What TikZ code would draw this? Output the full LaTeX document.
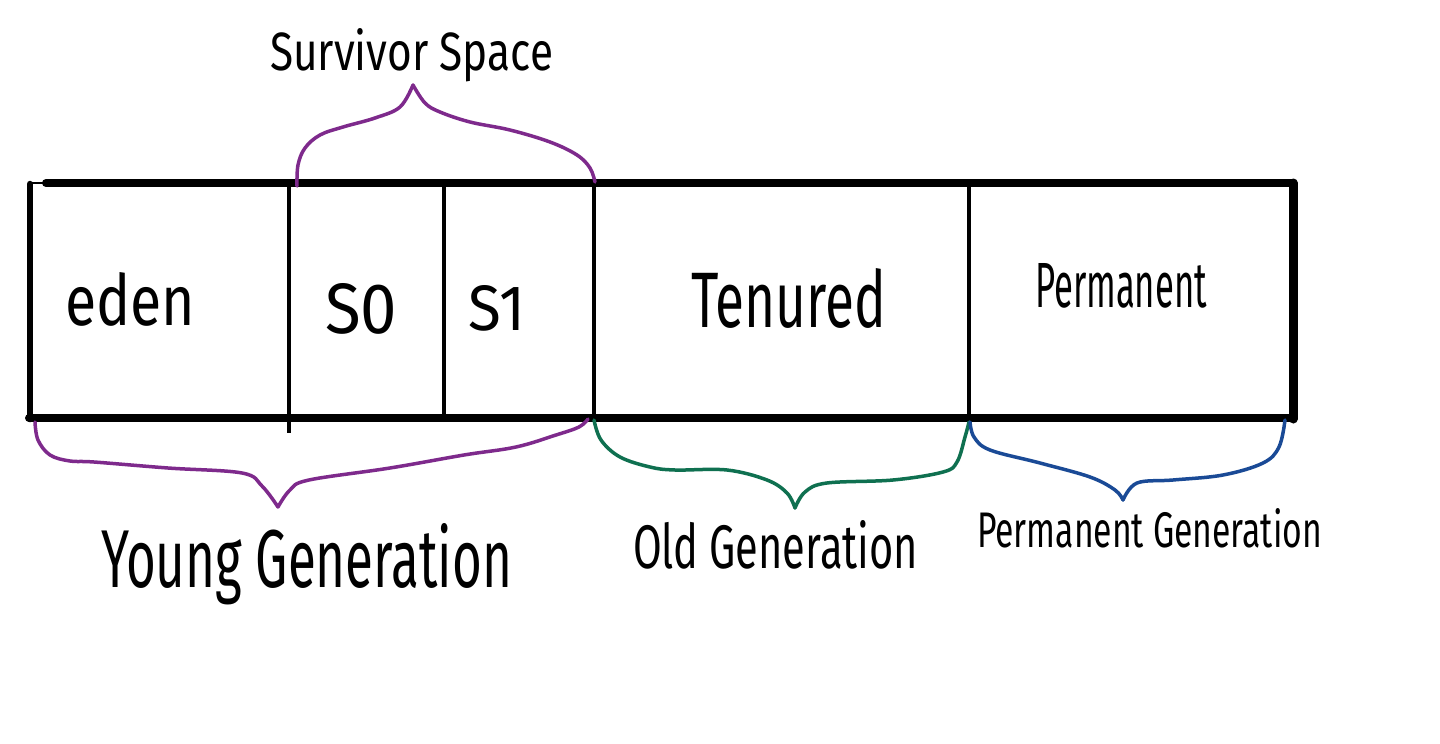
\documentclass[tikz,border=0pt]{standalone}
\usepackage{graphicx}
\usepackage{fontspec}
\setmainfont{Fira Sans}
\definecolor{survpurple}{HTML}{7E2A8C}
\definecolor{oldgreen}{HTML}{0F7050}
\definecolor{permblue}{HTML}{1A4A96}
\tikzset{
  heavy/.style={line width=8pt, line cap=round},
  divider/.style={line width=3.5pt},
  brace/.style={line width=3.5pt, line cap=round, line join=round},
  lbl/.style={anchor=base west, inner sep=0pt, outer sep=0pt},
}
% text stretched to a given width and height
\newcommand{\fitlabel}[3]{\resizebox{#1pt}{#2pt}{#3}}
\begin{document}
\begin{tikzpicture}[x=1pt, y=-1pt]
  \useasboundingbox (0,0) rectangle (1440,744);
  \fill[white] (0,0) rectangle (1440,744);

  % heap outline
  \draw[line width=1.5pt] (30,183) -- (46,183);
  \draw[heavy] (46,183) -- (1293,183);
  \draw[line width=6.5pt, line cap=round] (30,184) -- (30,419);
  \draw[heavy] (29,418) -- (1293,418);
  \draw[line width=9pt, line cap=round] (1293,183) -- (1293,419);

  % region dividers
  \draw[divider] (289,185) -- (289,433);
  \draw[divider] (444,185) -- (444,416);
  \draw[divider] (594,185) -- (594,418);
  \draw[divider] (969,185) -- (969,418);

  % survivor space brace
  \draw[brace, survpurple] plot[smooth, tension=0.6] coordinates {(297,186) (298,165) (305,148) (320,135) (343,127) (375,118) (400,107) (413,85)};
  \draw[brace, survpurple] plot[smooth, tension=0.6] coordinates {(413,85) (425,103) (440,112) (470,122) (510,130) (550,142) (577,155) (590,168) (595,182)};

  % young generation brace
  \draw[brace, survpurple] plot[smooth, tension=0.6] coordinates {(35,422) (38,440) (50,455) (70,461) (94,462) (168,468) (242,473) (262,486) (278,507)};
  \draw[brace, survpurple] plot[smooth, tension=0.6] coordinates {(278,507) (290,490) (309,480) (390,468) (464,455) (516,447) (556,435) (579,427) (588,419)};

  % old generation brace
  \draw[brace, oldgreen] plot[smooth, tension=0.6] coordinates {(594,420) (601,440) (620,457) (650,467) (675,470) (727,470) (767,480) (787,493) (795,508)};
  \draw[brace, oldgreen] plot[smooth, tension=0.6] coordinates {(795,508) (805,492) (827,483) (893,480) (943,472) (957,462) (965,437) (969,422)};

  % permanent generation brace
  \draw[brace, permblue] plot[smooth, tension=0.6] coordinates {(970,422) (974,437) (990,450) (1040,463) (1090,477) (1115,490) (1123,500)};
  \draw[brace, permblue] plot[smooth, tension=0.6] coordinates {(1123,500) (1137,483) (1173,480) (1223,475) (1263,463) (1279,447) (1285,420)};

  % labels
  \node[lbl] (survivor) at (270,70)  {\fitlabel{283}{42}{Survivor Space}};
  \node[lbl] (eden)     at (65,325)  {\fitlabel{130}{53}{eden}};
  \node[lbl] (szero)    at (325,333) {\fitlabel{72}{50}{S0}};
  \node[lbl] (sone)     at (468,330) {\fitlabel{57}{45}{S1}};
  \node[lbl] (tenured)  at (691,327) {\fitlabel{195}{59}{Tenured}};
  \node[lbl] (perm)     at (1035,307) {\fitlabel{172}{44}{Permanent}};
  \node[lbl] (young)    at (101,587) {\fitlabel{411}{64}{Young Generation}};
  \node[lbl] (old)      at (633,568) {\fitlabel{285}{48}{Old Generation}};
  \node[lbl] (permgen)  at (977,547) {\fitlabel{345}{39}{Permanent Generation}};
\end{tikzpicture}
\end{document}
